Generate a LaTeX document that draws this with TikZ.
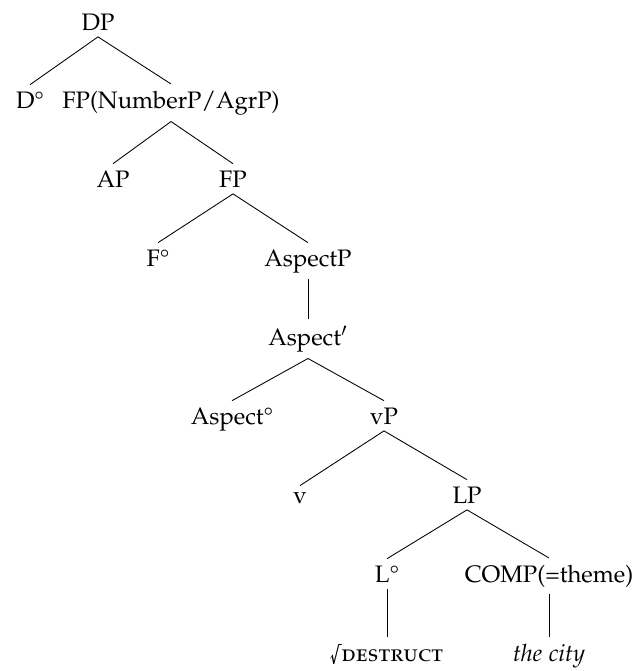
\documentclass[tikz,border=0pt]{standalone}
\usepackage[T1]{fontenc}
\usepackage[sc]{mathpazo}
\usepackage{textcomp}
\usepackage{amsmath}
\usepackage{tikz}

\begin{document}
\begin{tikzpicture}[x=0.52pt,y=-0.52pt,
	every node/.style={font=\fontsize{12.4}{14}\selectfont,anchor=base},
	branch/.style={draw=black,line width=0.45pt}]
	\useasboundingbox (0,0) rectangle (634,671);
	% nodes, one row per level
	\node (dp) at (98,30) {DP};
	\node (d) at (30,108) {D\textdegree};
	\node (fpa) at (171,108) {FP(NumberP/AgrP)};
	\node (ap) at (113,187) {AP};
	\node (fpb) at (233,187) {FP};
	\node (f) at (158,266) {F\textdegree};
	\node (aspp) at (308,266) {AspectP};
	\node (aspbar) at (308,345) {Aspect$'$};
	\node (asp) at (232,424) {Aspect\textdegree};
	\node (vp) at (384,424) {vP};
	\node (v) at (300,503) {v};
	\node (lp) at (467,503) {LP};
	\node (l) at (387,582) {L\textdegree};
	\node (comp) at (549,582) {COMP(=theme)};
	\node (root) at (387,661) {\textsurd\textsc{destruct}};
	\node (city) at (549,661) {\textit{the city}};
	% branches
	\draw[branch] (d.north) -- (dp.south) -- (fpa.north);
	\draw[branch] (ap.north) -- (fpa.south) -- (fpb.north);
	\draw[branch] (f.north) -- (fpb.south) -- (aspp.north);
	\draw[branch] (aspp.south) -- (aspbar.north);
	\draw[branch] (asp.north) -- (aspbar.south) -- (vp.north);
	\draw[branch] (v.north) -- (vp.south) -- (lp.north);
	\draw[branch] (l.north) -- (lp.south) -- (comp.north);
	\draw[branch] (l.south) -- (root.north);
	\draw[branch] (comp.south) -- (city.north);
\end{tikzpicture}
\end{document}
